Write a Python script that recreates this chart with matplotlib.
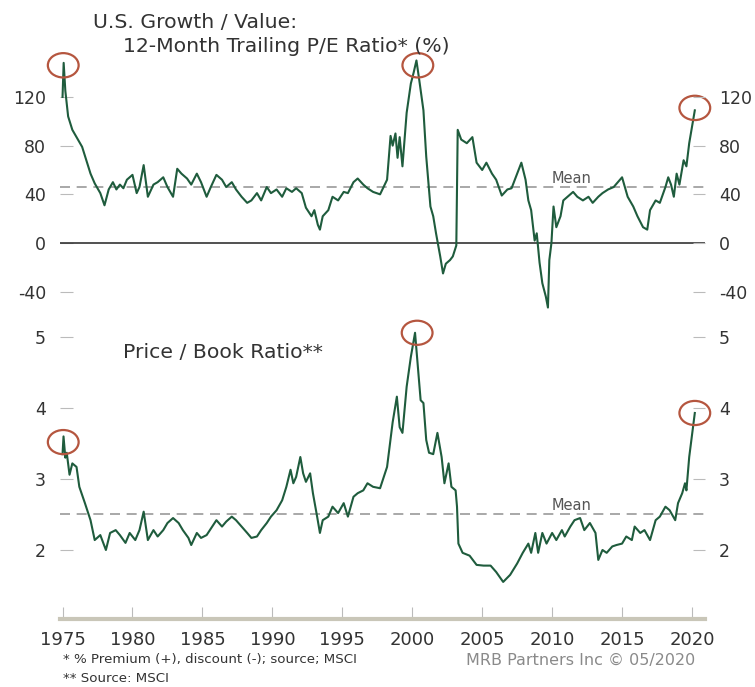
import matplotlib
matplotlib.use("Agg")
import matplotlib.pyplot as plt
from matplotlib.patches import Ellipse

# U.S. growth / value, 12-month trailing P/E ratio premium (%)
pe_years = [1975.0, 1975.08, 1975.2, 1975.4, 1975.7, 1976.0, 1976.4, 1976.7, 1977.0, 1977.3,
            1977.7, 1978.0, 1978.3, 1978.6, 1978.85, 1979.1, 1979.35, 1979.6, 1980.0, 1980.3,
            1980.5, 1980.8, 1981.1, 1981.5, 1981.8, 1982.2, 1982.5, 1982.9, 1983.2, 1983.5,
            1983.9, 1984.2, 1984.6, 1984.9, 1985.3, 1985.6, 1986.0, 1986.4, 1986.7, 1987.1,
            1987.4, 1987.8, 1988.2, 1988.5, 1988.9, 1989.2, 1989.6, 1989.9, 1990.3, 1990.7,
            1991.0, 1991.4, 1991.7, 1992.1, 1992.4, 1992.8, 1993.0, 1993.25, 1993.4, 1993.6,
            1994.0, 1994.3, 1994.7, 1995.1, 1995.4, 1995.8, 1996.1, 1996.5, 1996.8, 1997.2,
            1997.7, 1998.2, 1998.45, 1998.6, 1998.8, 1998.95, 1999.1, 1999.3, 1999.6, 1999.9,
            2000.1, 2000.3, 2000.5, 2000.8, 2001.0, 2001.3, 2001.5, 2001.7, 2002.0, 2002.2,
            2002.4, 2002.7, 2002.9, 2003.15, 2003.25, 2003.5, 2003.9, 2004.3, 2004.6, 2005.0,
            2005.3, 2005.7, 2006.0, 2006.4, 2006.8, 2007.1, 2007.5, 2007.8, 2008.1, 2008.3,
            2008.5, 2008.75, 2008.9, 2009.1, 2009.3, 2009.55, 2009.7, 2009.8, 2009.95, 2010.1,
            2010.3, 2010.6, 2010.8, 2011.1, 2011.5, 2011.8, 2012.2, 2012.6, 2012.9, 2013.3,
            2013.6, 2014.0, 2014.4, 2014.7, 2015.0, 2015.2, 2015.4, 2015.8, 2016.1, 2016.5,
            2016.8, 2017.0, 2017.4, 2017.7, 2018.1, 2018.3, 2018.5, 2018.7, 2018.9, 2019.1,
            2019.4, 2019.6, 2019.8, 2020.05, 2020.2]
pe_vals = [120, 148, 125, 104, 93, 87, 79, 68, 57, 49,
           41, 31, 44, 50, 44, 48, 45, 52, 56, 41,
           46, 64, 38, 48, 50, 54, 46, 38, 61, 57,
           53, 48, 57, 50, 38, 46, 56, 52, 46, 50,
           44, 38, 33, 35, 41, 35, 46, 41, 44, 38,
           45, 42, 45, 41, 29, 22, 27, 15, 11, 22,
           27, 38, 35, 42, 41, 50, 53, 48, 45, 42,
           40, 52, 88, 80, 90, 70, 87, 63, 107, 131,
           140, 150, 134, 109, 71, 30, 22, 8, -11, -25,
           -17, -14, -11, -2, 93, 85, 82, 87, 66, 60,
           66, 57, 52, 39, 44, 45, 57, 66, 52, 35,
           27, 2, 8, -16, -33, -44, -53, -14, 0, 30,
           13, 22, 35, 38, 42, 38, 35, 38, 33, 38,
           41, 44, 46, 50, 54, 46, 38, 30, 22, 13,
           11, 27, 35, 33, 46, 54, 48, 38, 57, 48,
           68, 63, 82, 99, 109]
pe_mean = 46
pe_ticks = [-40, 0, 40, 80, 120]

# Price / book ratio
pb_years = [1975.0, 1975.07, 1975.2, 1975.3, 1975.5, 1975.7, 1976.0, 1976.2, 1976.6, 1977.0,
            1977.3, 1977.7, 1978.1, 1978.4, 1978.8, 1979.1, 1979.5, 1979.8, 1980.2, 1980.5,
            1980.8, 1981.1, 1981.5, 1981.8, 1982.2, 1982.5, 1982.9, 1983.3, 1983.6, 1984.0,
            1984.2, 1984.6, 1984.9, 1985.3, 1985.7, 1986.0, 1986.4, 1986.7, 1987.1, 1987.4,
            1987.8, 1988.2, 1988.5, 1988.9, 1989.2, 1989.6, 1989.9, 1990.3, 1990.7, 1991.0,
            1991.3, 1991.5, 1991.7, 1992.0, 1992.2, 1992.4, 1992.7, 1992.9, 1993.2, 1993.4,
            1993.6, 1994.0, 1994.3, 1994.7, 1995.1, 1995.4, 1995.8, 1996.1, 1996.5, 1996.8,
            1997.2, 1997.7, 1998.2, 1998.6, 1998.9, 1999.1, 1999.3, 1999.6, 1999.9, 2000.2,
            2000.4, 2000.6, 2000.8, 2001.0, 2001.2, 2001.5, 2001.8, 2002.1, 2002.3, 2002.6,
            2002.8, 2003.1, 2003.2, 2003.3, 2003.6, 2004.1, 2004.6, 2005.1, 2005.6, 2006.0,
            2006.5, 2007.0, 2007.5, 2007.9, 2008.3, 2008.5, 2008.8, 2009.0, 2009.3, 2009.6,
            2010.0, 2010.3, 2010.7, 2010.9, 2011.3, 2011.6, 2012.0, 2012.3, 2012.7, 2013.1,
            2013.3, 2013.6, 2013.9, 2014.3, 2014.6, 2015.0, 2015.3, 2015.7, 2015.9, 2016.3,
            2016.6, 2017.0, 2017.4, 2017.7, 2018.1, 2018.4, 2018.8, 2019.0, 2019.3, 2019.5,
            2019.6, 2019.8, 2020.2]
pb_vals = [3.35, 3.6, 3.3, 3.37, 3.06, 3.22, 3.17, 2.89, 2.66, 2.42,
           2.14, 2.21, 2.0, 2.24, 2.28, 2.21, 2.10, 2.24, 2.14, 2.28,
           2.54, 2.14, 2.28, 2.19, 2.28, 2.38, 2.45, 2.38, 2.28, 2.17,
           2.07, 2.24, 2.17, 2.21, 2.33, 2.42, 2.33, 2.40, 2.47, 2.42,
           2.33, 2.24, 2.17, 2.19, 2.28, 2.38, 2.47, 2.56, 2.70, 2.89,
           3.13, 2.94, 3.03, 3.31, 3.08, 2.96, 3.08, 2.80, 2.47, 2.24,
           2.42, 2.47, 2.61, 2.52, 2.66, 2.47, 2.75, 2.80, 2.84, 2.94,
           2.89, 2.87, 3.17, 3.8, 4.16, 3.73, 3.65, 4.3, 4.72, 5.06,
           4.58, 4.11, 4.07, 3.55, 3.37, 3.35, 3.65, 3.31, 2.94, 3.22,
           2.89, 2.84, 2.61, 2.09, 1.96, 1.92, 1.79, 1.78, 1.78, 1.69,
           1.55, 1.65, 1.81, 1.96, 2.09, 1.96, 2.24, 1.96, 2.24, 2.09,
           2.24, 2.14, 2.28, 2.19, 2.33, 2.42, 2.45, 2.28, 2.38, 2.24,
           1.86, 2.0, 1.96, 2.05, 2.07, 2.09, 2.19, 2.14, 2.33, 2.24,
           2.28, 2.14, 2.42, 2.47, 2.61, 2.56, 2.42, 2.66, 2.80, 2.94,
           2.84, 3.31, 3.93]
pb_mean = 2.5
pb_ticks = [2, 3, 4, 5]

x_ticks = [1975, 1980, 1985, 1990, 1995, 2000, 2005, 2010, 2015, 2020]
# peaks marked with circles
pe_marks = [(1975.05, 146), (2000.4, 146), (2020.2, 111)]
pb_marks = [(1975.05, 3.52), (2000.35, 5.06), (2020.2, 3.93)]

LINE = "#1f5c3d"
RING = "#b5563f"
TXT = "#333333"
XLIM = (1974.82, 2020.93)

fig = plt.figure(figsize=(7.55, 6.87), dpi=100)
ax1 = fig.add_axes([0.0795, 0.5371, 0.8543, 0.4047])
ax2 = fig.add_axes([0.0795, 0.0990, 0.8543, 0.4381])


def style_y(ax, ticks, lim):
    ax.set_ylim(*lim)
    ax.set_yticks(ticks)
    ax.set_yticklabels([f"{t:g}" for t in ticks])
    for s in ax.spines.values():
        s.set_visible(False)
    ax.tick_params(axis="y", direction="in", length=9, width=0.8, color="#bbbbbb",
                   labelsize=12.5, labelcolor=TXT, pad=10)


# top panel: P/E premium
ax1.plot(pe_years, pe_vals, color=LINE, lw=1.5, zorder=3)
ax1.axhline(0, color="#333333", lw=1.2, zorder=2)
ax1.axhline(pe_mean, color="#9a9a9a", lw=1.2, ls=(0, (6, 4)), zorder=1)
ax1.text(2011.4, 53, "Mean", fontsize=10.5, color="#555555", ha="center", va="center")
ax1.set_xlim(*XLIM)
ax1.set_xticks([])
style_y(ax1, pe_ticks, (-61.6, 166.8))
ax1r = ax1.twinx()
style_y(ax1r, pe_ticks, (-61.6, 166.8))
for x, y in pe_marks:
    ax1.add_patch(Ellipse((x, y), 2.2, 20, fill=False, ec=RING, lw=1.6, zorder=4, clip_on=False))

# bottom panel: price / book
ax2.plot(pb_years, pb_vals, color=LINE, lw=1.5, zorder=3)
ax2.axhline(pb_mean, color="#9a9a9a", lw=1.2, ls=(0, (6, 4)), zorder=1)
ax2.text(2011.4, 2.63, "Mean", fontsize=10.5, color="#555555", ha="center", va="center")
ax2.set_xlim(*XLIM)
style_y(ax2, pb_ticks, (1.028, 5.268))
ax2r = ax2.twinx()
style_y(ax2r, pb_ticks, (1.028, 5.268))
ax2.spines["bottom"].set_visible(True)
ax2.spines["bottom"].set_color("#c9c6b8")
ax2.spines["bottom"].set_linewidth(3)
ax2.set_xticks(x_ticks)
ax2.set_xticklabels([str(t) for t in x_ticks])
ax2.tick_params(axis="x", direction="in", length=9, width=0.8, color="#bbbbbb",
                labelsize=13, labelcolor=TXT, pad=9)
for x, y in pb_marks:
    ax2.add_patch(Ellipse((x, y), 2.2, 0.34, fill=False, ec=RING, lw=1.6, zorder=4, clip_on=False))

# titles and notes
fig.text(93 / 755, 1 - 23 / 687, "U.S. Growth / Value:", fontsize=14.7, color=TXT, va="center")
fig.text(123 / 755, 1 - 47 / 687, "12-Month Trailing P/E Ratio* (%)", fontsize=14.7, color=TXT,
         va="center")
fig.text(123 / 755, 1 - 352 / 687, "Price / Book Ratio**", fontsize=14.7, color=TXT, va="center")
fig.text(63 / 755, 1 - 660 / 687, "* % Premium (+), discount (-); source; MSCI", fontsize=9.6,
         color=TXT, va="center")
fig.text(63 / 755, 1 - 678 / 687, "** Source: MSCI", fontsize=9.6, color=TXT, va="center")
fig.text(695 / 755, 1 - 660 / 687, "MRB Partners Inc \u00a9 05/2020", fontsize=11.5,
         color="#8a8a8a", ha="right", va="center")

fig.savefig("out.png", dpi=100)
